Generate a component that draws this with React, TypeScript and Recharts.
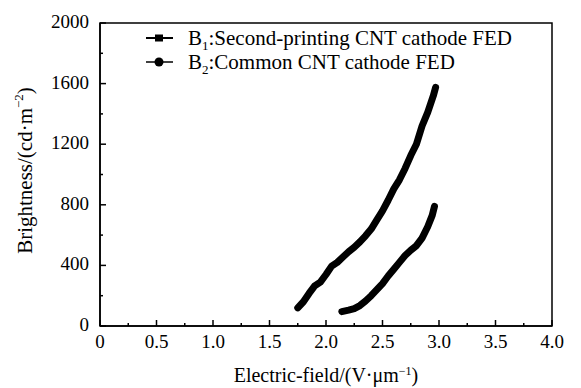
import React from 'react';
import { LineChart, Line, XAxis, YAxis, ReferenceArea } from 'recharts';

const xTicks = [0, 0.25, 0.5, 0.75, 1, 1.25, 1.5, 1.75, 2, 2.25, 2.5, 2.75, 3, 3.25, 3.5, 3.75, 4];
const xMajorLabels: Record<string, string> = { '0': '0', '0.5': '0.5', '1': '1.0', '1.5': '1.5', '2': '2.0', '2.5': '2.5', '3': '3.0', '3.5': '3.5', '4': '4.0' };
const yTicks = [0, 200, 400, 600, 800, 1000, 1200, 1400, 1600, 1800, 2000];
const yMajor = [0, 400, 800, 1200, 1600, 2000];

const b1Field = [1.75, 1.8, 1.85, 1.9, 1.95, 2.0, 2.05, 2.1, 2.15, 2.2, 2.25, 2.3, 2.35, 2.4, 2.45, 2.5, 2.55, 2.6, 2.65, 2.7, 2.75, 2.8, 2.85, 2.9, 2.95, 2.97];
const b1Bright = [120, 160, 215, 265, 290, 340, 395, 420, 455, 490, 520, 555, 595, 640, 700, 760, 830, 905, 965, 1040, 1125, 1200, 1320, 1410, 1520, 1575];
const b2Field = [2.14, 2.2, 2.25, 2.3, 2.35, 2.4, 2.45, 2.5, 2.55, 2.6, 2.65, 2.7, 2.75, 2.8, 2.85, 2.9, 2.94, 2.96];
const b2Bright = [95, 105, 115, 135, 165, 200, 240, 280, 330, 375, 420, 465, 500, 530, 580, 655, 730, 790];

const b1 = b1Field.map((x, i) => ({ x, y: b1Bright[i] }));
const b2 = b2Field.map((x, i) => ({ x, y: b2Bright[i] }));

const FONT = '"Liberation Serif", "Times New Roman", serif';
const TICK_FS = 19;
const TITLE_FS = 20;

const XTick = (props: any) => {
  const { x, y, payload } = props;
  const v = payload.value;
  const key = String(v);
  const major = key in xMajorLabels;
  return (
    <g>
      <line x1={x} x2={x} y1={y} y2={y - (major ? 6 : 3)} stroke="#000" strokeWidth={1.5} />
      {major && (
        <text x={x} y={y + 22} textAnchor="middle" fontFamily={FONT} fontSize={TICK_FS} fill="#000">
          {xMajorLabels[key]}
        </text>
      )}
    </g>
  );
};

const YTick = (props: any) => {
  const { x, y, payload } = props;
  const v = payload.value;
  const major = yMajor.includes(v);
  return (
    <g>
      <line x1={x} x2={x + (major ? 6 : 3)} y1={y} y2={y} stroke="#000" strokeWidth={1.5} />
      {major && (
        <text x={x - 11} y={y + 5} textAnchor="end" fontFamily={FONT} fontSize={TICK_FS} fill="#000">
          {v}
        </text>
      )}
    </g>
  );
};

const YTitle = (props: any) => {
  const vb = props.viewBox || {};
  const cx = (vb.x || 0) + 25;
  const cy = (vb.y || 0) + (vb.height || 0) / 2 - 4;
  return (
    <text transform={`translate(${cx},${cy}) rotate(-90)`} textAnchor="middle" dominantBaseline="central" fontFamily={FONT} fontSize={21} fill="#000">
      Brightness/(cd·m<tspan fontSize={13} dy={-7}>−2</tspan><tspan dy={7}>)</tspan>
    </text>
  );
};

const XTitle = (props: any) => {
  const vb = props.viewBox || {};
  const cx = (vb.x || 0) + (vb.width || 0) / 2;
  const cy = (vb.y || 0) + 56;
  return (
    <text x={cx} y={cy} textAnchor="middle" fontFamily={FONT} fontSize={TITLE_FS} fill="#000">
      Electric-field/(V·μm<tspan fontSize={12} dy={-7}>−1</tspan><tspan dy={7}>)</tspan>
    </text>
  );
};

const LegendBox = () => (
  <div style={{ position: 'absolute', left: 146, top: 26, fontFamily: FONT, fontSize: 21, color: '#000', lineHeight: '24px', whiteSpace: 'nowrap' }}>
    <div style={{ display: 'flex', alignItems: 'center', height: 24 }}>
      <svg width={28} height={12} style={{ marginRight: 14 }}>
        <line x1={0} x2={27} y1={6} y2={6} stroke="#000" strokeWidth={2} />
        <rect x={9} y={2.5} width={8} height={7} fill="#000" />
      </svg>
      <span>B<sub style={{ fontSize: 13, lineHeight: 0 }}>1</sub>:Second-printing CNT cathode FED</span>
    </div>
    <div style={{ display: 'flex', alignItems: 'center', height: 24 }}>
      <svg width={28} height={12} style={{ marginRight: 14 }}>
        <line x1={0} x2={27} y1={6} y2={6} stroke="#000" strokeWidth={1.5} />
        <circle cx={13} cy={6} r={4.5} fill="#000" />
      </svg>
      <span>B<sub style={{ fontSize: 13, lineHeight: 0 }}>2</sub>:Common CNT cathode FED</span>
    </div>
  </div>
);

export default function App() {
  return (
    <div style={{ position: 'absolute', left: 0, top: 0, width: 581, height: 388, background: '#fff' }}>
      <LineChart width={581} height={388} margin={{ top: 23, right: 29, bottom: 0, left: 0 }}>
        <XAxis
          type="number"
          dataKey="x"
          domain={[0, 4]}
          ticks={xTicks}
          interval={0}
          height={62}
          tick={<XTick />}
          tickLine={false}
          tickSize={0}
          tickMargin={0}
          axisLine={{ stroke: '#000', strokeWidth: 1.5 }}
          allowDataOverflow
          label={<XTitle />}
        />
        <YAxis
          type="number"
          dataKey="y"
          domain={[0, 2000]}
          ticks={yTicks}
          interval={0}
          width={100}
          tick={<YTick />}
          tickLine={false}
          tickSize={0}
          tickMargin={0}
          axisLine={{ stroke: '#000', strokeWidth: 1.5 }}
          allowDataOverflow
          label={<YTitle />}
        />
        <ReferenceArea x1={0} x2={4} y1={0} y2={2000} fill="none" stroke="#000" strokeWidth={1.5} ifOverflow="visible" />
        <Line data={b1} dataKey="y" stroke="#000" strokeWidth={7} strokeLinecap="round" strokeLinejoin="round" dot={false} isAnimationActive={false} />
        <Line data={b2} dataKey="y" stroke="#000" strokeWidth={7} strokeLinecap="round" strokeLinejoin="round" dot={false} isAnimationActive={false} />
      </LineChart>
      <LegendBox />
    </div>
  );
}
